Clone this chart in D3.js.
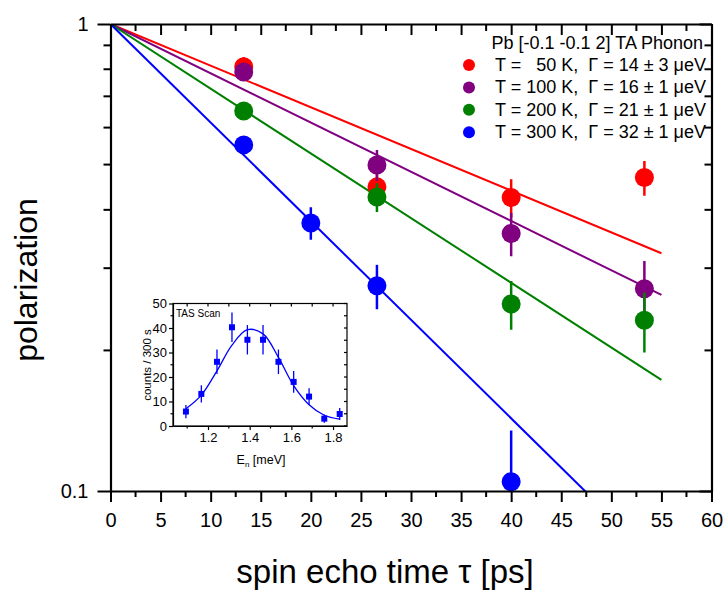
<!DOCTYPE html>
<html><head><meta charset="utf-8">
<script src="https://cdn.jsdelivr.net/npm/d3@7"></script>
<style>
body{margin:0;background:#fff}
text{font-family:"Liberation Sans",Arial,Helvetica,sans-serif;fill:#000}
</style>
</head><body>
<svg id="chart" width="726" height="593"></svg>
<script>
// ---------- DATA ----------
const tauT = [13.3, 26.6, 40, 53.3];          // spin echo times (50,100,200 K)
const tau300 = [13.3, 20, 26.6, 40];          // spin echo times (300 K)
const pol50  = [0.81, 0.448, 0.425, 0.469];
const err50  = [0.04, 0.04, 0.04, 0.04];
const pol100 = [0.789, 0.499, 0.356, 0.271];
const err100 = [0.03, 0.038, 0.038, 0.04];
const pol200 = [0.651, 0.426, 0.2515, 0.232];
const err200 = [0.02, 0.03, 0.03, 0.034];
const pol300 = [0.551, 0.375, 0.275, 0.1047];
const err300 = [0.025, 0.03, 0.03, 0.03];
const fitTau = [0, 55];
const fit50  = [1, 0.323];
const fit100 = [1, 0.263];
const fit200 = [1, 0.173];
const fit300 = [1, 0.069];
const legendTitle = "Pb [-0.1 -0.1 2] TA Phonon";
const legendLabels = [
  "T =   50 K,  \u0393 = 14 \u00b1 3 \u03bceV",
  "T = 100 K,  \u0393 = 16 \u00b1 1 \u03bceV",
  "T = 200 K,  \u0393 = 21 \u00b1 1 \u03bceV",
  "T = 300 K,  \u0393 = 32 \u00b1 1 \u03bceV"];
const colors = ["#ff0000", "#800080", "#008000", "#0000ff"];
const xTicks = [0,5,10,15,20,25,30,35,40,45,50,55,60];
const yMajor = [0.1, 1];
const yMinor = [0.2,0.3,0.4,0.5,0.6,0.7,0.8,0.9];

// inset (TAS scan)
const tasE = [1.094, 1.168, 1.243, 1.315, 1.389, 1.464, 1.538, 1.611, 1.685, 1.758, 1.832];
const tasCounts = [5.9, 13.1, 26.2, 40.3, 35.2, 35.2, 26.2, 18.0, 12.0, 3.0, 4.9];
const tasErr = [2.7, 3.5, 5.0, 6.0, 6.0, 6.0, 5.0, 4.4, 3.4, 1.7, 2.4];
const tasFit = [7.0, 12.6, 22.5, 33.0, 39.3, 37.6, 28.0, 16.5, 8.7, 4.4, 2.8];
const tasXTicks = [1.2, 1.4, 1.6, 1.8];
const tasYTicks = [0, 10, 20, 30, 40, 50];

// ---------- LAYOUT ----------
const svg = d3.select("#chart");
const L = 110.5, R = 711.5, T = 24, B = 491;
const x = d3.scaleLinear().domain([0, 60]).range([L, R]);
const y = d3.scaleLog().domain([0.1, 1]).range([B, T]);

const series = [
  {t: tauT, p: pol50, e: err50, f: fit50},
  {t: tauT, p: pol100, e: err100, f: fit100},
  {t: tauT, p: pol200, e: err200, f: fit200},
  {t: tau300, p: pol300, e: err300, f: fit300}
];

svg.append("clipPath").attr("id", "clip").append("rect")
  .attr("x", L).attr("y", T).attr("width", R - L).attr("height", B - T);

const plot = svg.append("g").attr("clip-path", "url(#clip)");
const line = d3.line().x(d => x(d[0])).y(d => y(d[1]));
series.forEach((s, i) => {
  plot.append("path").datum(fitTau.map((t, k) => [t, s.f[k]]))
    .attr("d", line).attr("fill", "none").attr("stroke", colors[i]).attr("stroke-width", 2);
});
series.forEach((s, i) => {
  const g = plot.append("g");
  s.t.forEach((t, k) => {
    g.append("line").attr("x1", x(t)).attr("x2", x(t))
      .attr("y1", y(s.p[k] - s.e[k])).attr("y2", y(s.p[k] + s.e[k]))
      .attr("stroke", colors[i]).attr("stroke-width", 2.5);
    g.append("circle").attr("cx", x(t)).attr("cy", y(s.p[k])).attr("r", 9.5)
      .attr("fill", colors[i]);
  });
});

// ---------- AXES ----------
const ax = svg.append("g");
// bottom
const xb = ax.append("g").attr("transform", `translate(0,${B})`)
  .call(d3.axisBottom(x).tickValues(xTicks).tickSize(11).tickSizeOuter(0).tickPadding(11));
xb.selectAll("text").attr("font-size", 20).attr("font-family", "Liberation Sans, Arial, sans-serif");
const minorX = d3.range(2.5, 60, 5);
xb.selectAll(".mn").data(minorX).enter().append("line")
  .attr("x1", d => x(d)).attr("x2", d => x(d)).attr("y1", 0).attr("y2", 6).attr("stroke", "#000").attr("stroke-width", 2);
// top
const xt = ax.append("g").attr("transform", `translate(0,${T})`)
  .call(d3.axisTop(x).tickValues(xTicks).tickSize(-11).tickSizeOuter(0).tickFormat(""));
xt.selectAll(".mn").data(minorX).enter().append("line")
  .attr("x1", d => x(d)).attr("x2", d => x(d)).attr("y1", 0).attr("y2", 7).attr("stroke", "#000").attr("stroke-width", 2);
// left
const yl = ax.append("g").attr("transform", `translate(${L},0)`)
  .call(d3.axisLeft(y).tickValues(yMajor).tickSize(13).tickSizeOuter(0).tickPadding(9)
    .tickFormat(d => d === 1 ? "1" : "0.1"));
yl.selectAll("text").attr("font-size", 20).attr("font-family", "Liberation Sans, Arial, sans-serif");
yl.selectAll(".mn").data(yMinor).enter().append("line")
  .attr("x1", -7).attr("x2", 0).attr("y1", d => y(d)).attr("y2", d => y(d)).attr("stroke", "#000").attr("stroke-width", 2);
// right
const yr = ax.append("g").attr("transform", `translate(${R},0)`)
  .call(d3.axisRight(y).tickValues(yMajor).tickSize(-12).tickSizeOuter(0).tickFormat(""));
yr.selectAll(".mn").data(yMinor).enter().append("line")
  .attr("x1", -7).attr("x2", 0).attr("y1", d => y(d)).attr("y2", d => y(d)).attr("stroke", "#000").attr("stroke-width", 2);
ax.selectAll("path.domain").attr("stroke-width", 2.2).attr("stroke", "#000");
ax.selectAll(".tick line").attr("stroke-width", 2).attr("stroke", "#000");

// axis titles
svg.append("text").attr("x", 385).attr("y", 583).attr("text-anchor", "middle")
  .attr("font-size", 33).text("spin echo time \u03c4 [ps]");
svg.append("text").attr("transform", "translate(37,280) rotate(-90)").attr("text-anchor", "middle")
  .attr("font-size", 32).text("polarization");

// ---------- LEGEND ----------
const lg = svg.append("g");
lg.append("text").attr("x", 703).attr("y", 49).attr("text-anchor", "end")
  .attr("font-size", 18).text(legendTitle);
legendLabels.forEach((lab, i) => {
  const cy = 65 + i * 22.4;
  lg.append("circle").attr("cx", 469).attr("cy", cy).attr("r", 6).attr("fill", colors[i]);
  lg.append("text").attr("x", 495).attr("y", cy + 6).attr("font-size", 18)
    .style("white-space", "pre").attr("xml:space", "preserve").text(lab);
});

// ---------- INSET ----------
const iL = 173, iR = 347, iT = 303.5, iB = 426;
const ix = d3.scaleLinear().domain([1.032, 1.867]).range([iL, iR]);
const iy = d3.scaleLinear().domain([0, 50]).range([iB, iT]);
const ins = svg.append("g");
ins.append("rect").attr("x", iL).attr("y", iT).attr("width", iR - iL).attr("height", iB - iT)
  .attr("fill", "#fff").attr("stroke", "#000").attr("stroke-width", 1.2);
const ibx = ins.append("g").attr("transform", `translate(0,${iB})`)
  .call(d3.axisBottom(ix).tickValues(tasXTicks).tickSize(4).tickSizeOuter(0).tickPadding(3).tickFormat(d3.format(".1f")));
const iby = ins.append("g").attr("transform", `translate(${iL},0)`)
  .call(d3.axisLeft(iy).tickValues(tasYTicks).tickSize(4).tickSizeOuter(0).tickPadding(2));
ins.selectAll("text").attr("font-size", 13).attr("font-family", "Liberation Sans, Arial, sans-serif");
ins.selectAll(".tick line").attr("stroke-width", 1.2);
ins.selectAll("path.domain").attr("stroke-width", 1.2);
const iMinX = [1.1, 1.3, 1.5, 1.7];
iMinX.forEach(v => {
  ins.append("line").attr("x1", ix(v)).attr("x2", ix(v)).attr("y1", iB).attr("y2", iB + 2.5).attr("stroke", "#000").attr("stroke-width", 1.2);
});
tasXTicks.concat(iMinX).forEach(v => {
  ins.append("line").attr("x1", ix(v)).attr("x2", ix(v)).attr("y1", iT).attr("y2", iT + 3).attr("stroke", "#000").attr("stroke-width", 1.2);
});
[5, 15, 25, 35, 45].forEach(v => {
  ins.append("line").attr("x1", iL - 2.5).attr("x2", iL).attr("y1", iy(v)).attr("y2", iy(v)).attr("stroke", "#000").attr("stroke-width", 1.2);
});
tasYTicks.concat([5, 15, 25, 35, 45]).forEach(v => {
  ins.append("line").attr("x1", iR - 3).attr("x2", iR).attr("y1", iy(v)).attr("y2", iy(v)).attr("stroke", "#000").attr("stroke-width", 1.2);
});
ins.append("path").datum(tasE.map((e, k) => [e, tasFit[k]]))
  .attr("d", d3.line().x(d => ix(d[0])).y(d => iy(d[1])).curve(d3.curveCatmullRom))
  .attr("fill", "none").attr("stroke", "#0000ff").attr("stroke-width", 1.3);
tasE.forEach((e, k) => {
  ins.append("line").attr("x1", ix(e)).attr("x2", ix(e))
    .attr("y1", iy(tasCounts[k] - tasErr[k])).attr("y2", iy(tasCounts[k] + tasErr[k]))
    .attr("stroke", "#0000ff").attr("stroke-width", 1.3);
  ins.append("rect").attr("x", ix(e) - 3).attr("y", iy(tasCounts[k]) - 3).attr("width", 6).attr("height", 6)
    .attr("fill", "#0000ff");
});
ins.append("text").attr("x", 176).attr("y", 317).attr("font-size", 10).text("TAS Scan");
const xl = ins.append("text").attr("x", 261).attr("y", 464).attr("text-anchor", "middle").attr("font-size", 12.5);
xl.append("tspan").text("E");
xl.append("tspan").attr("font-size", 8).attr("dy", 3).text("n");
xl.append("tspan").attr("dy", -3).text(" [meV]");
ins.append("text").attr("transform", "translate(151,365) rotate(-90)").attr("text-anchor", "middle")
  .attr("font-size", 11.5).text("counts / 300 s");
</script>
</body></html>
